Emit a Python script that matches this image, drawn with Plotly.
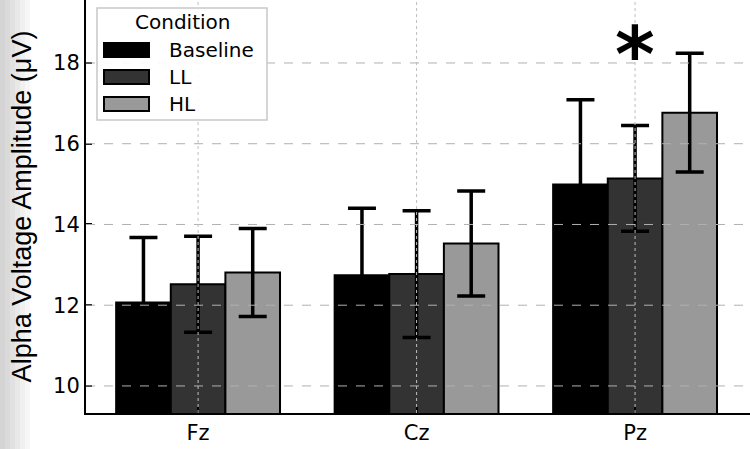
import plotly.graph_objects as go

categories = ["Fz", "Cz", "Pz"]
conditions = ["Baseline", "LL", "HL"]
baseline_mean = [12.07, 12.74, 14.99]
baseline_err = [1.61, 1.66, 2.10]
ll_mean = [12.52, 12.77, 15.14]
ll_err = [1.19, 1.57, 1.31]
hl_mean = [12.81, 13.53, 16.77]
hl_err = [1.09, 1.30, 1.47]
y_ticks = [10, 12, 14, 16, 18]

means = [baseline_mean, ll_mean, hl_mean]
errs = [baseline_err, ll_err, hl_err]
colors = ["#000000", "#333333", "#999999"]

# plot area geometry in pixels (for converting layout decorations to paper coords)
PL, PR, PT, PB = 86, 750, 0, 413
def px(x):
    return (x - PL) / (PR - PL)
def py(y):
    return 1 - (y - PT) / (PB - PT)

fig = go.Figure()
for name, m, e, c in zip(conditions, means, errs, colors):
    fig.add_trace(go.Bar(
        x=categories, y=m, name=name, showlegend=False,
        marker=dict(color=c, line=dict(color="black", width=2)),
        error_y=dict(type="data", array=e, visible=True, color="black",
                     thickness=3.5, width=14),
    ))

grid_col = "#b0b0b0"
for v in y_ticks:
    fig.add_shape(type="line", xref="paper", x0=0, x1=1, yref="y", y0=v, y1=v,
                  line=dict(color=grid_col, width=1, dash="dash"), layer="above")
for c in categories:
    fig.add_shape(type="line", xref="x", x0=c, x1=c, yref="paper", y0=0, y1=1,
                  line=dict(color="#bdbdbd", width=1, dash="dot"), layer="above")

fig.add_annotation(x="Pz", y=18.2, text="<b>*</b>", showarrow=False,
                   font=dict(size=76, color="black", family="DejaVu Sans"),
                   xanchor="center", yanchor="middle")

# custom legend (wide patches like the reference)
fig.add_shape(type="rect", xref="paper", yref="paper", x0=px(97), x1=px(267),
              y0=py(120), y1=py(8), fillcolor="rgba(255,255,255,0.9)",
              line=dict(color="#c8c8c8", width=1.5), layer="above")
fig.add_annotation(xref="paper", yref="paper", x=px(182), y=py(22), text="Condition",
                   showarrow=False, xanchor="center", yanchor="middle",
                   font=dict(size=20, family="DejaVu Sans", color="black"))
for i, (name, c) in enumerate(zip(conditions, colors)):
    yc = 50 + i * 27
    fig.add_shape(type="rect", xref="paper", yref="paper", x0=px(104), x1=px(149),
                  y0=py(yc + 7), y1=py(yc - 7), fillcolor=c,
                  line=dict(color="black", width=2), layer="above")
    fig.add_annotation(xref="paper", yref="paper", x=px(167), y=py(yc), text=name,
                       showarrow=False, xanchor="left", yanchor="middle",
                       font=dict(size=20, family="DejaVu Sans", color="black"))

# left gray strip (photo edge)
for i, g in enumerate(["#d4d4d4", "#dadada", "#e1e1e1", "#e8e8e8", "#f0f0f0", "#f7f7f7"]):
    fig.add_shape(type="rect", xref="paper", yref="paper", x0=px(i * 5),
                  x1=px((i + 1) * 5), y0=-0.1, y1=1.0,
                  fillcolor=g, line=dict(width=0), layer="below")

fig.update_layout(
    width=750, height=449,
    margin=dict(l=86, r=0, t=0, b=36),
    paper_bgcolor="white", plot_bgcolor="white",
    barmode="group", bargap=0.25, bargroupgap=0,
    font=dict(family="DejaVu Sans", size=18, color="black"),
    showlegend=False,
    xaxis=dict(
        range=[-0.513, 2.526], showgrid=False, showline=True, linecolor="black",
        linewidth=2, ticks="inside", ticklen=6, tickwidth=1.5, tickcolor="black",
        tickfont=dict(size=21), mirror=False,
    ),
    yaxis=dict(
        range=[9.33, 19.56], tickvals=y_ticks, showgrid=False, showline=True,
        linecolor="black", linewidth=2, ticks="inside", ticklen=6, tickwidth=1.5,
        tickcolor="black", tickfont=dict(size=21), zeroline=False,
        title=dict(text="Alpha Voltage Amplitude (μV)",
                   font=dict(family="Liberation Sans", size=27), standoff=14),
    ),
)

fig.write_html("out.html")
